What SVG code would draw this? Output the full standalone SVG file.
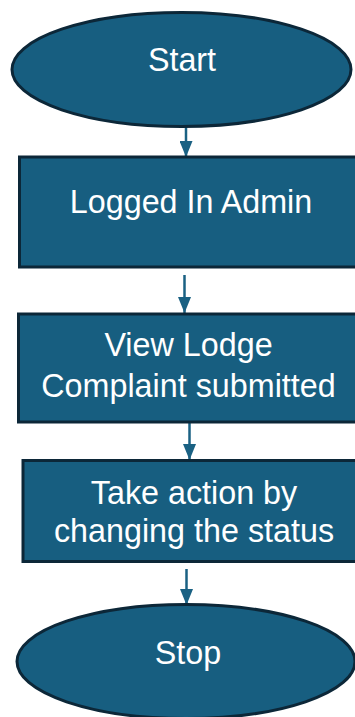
<svg xmlns="http://www.w3.org/2000/svg" width="355" height="717" viewBox="0 0 355 717">
<style>
.n{fill:#175e80;stroke:#0c2738;stroke-width:3}
.t{fill:#ffffff;font-family:"Liberation Sans",Arial,sans-serif;font-size:32.3px;text-anchor:middle}
.c{stroke:#1a6183;stroke-width:2.5;fill:none}
</style>
<defs>
<marker id="ah" markerUnits="userSpaceOnUse" markerWidth="16" markerHeight="13" refX="16" refY="6.5" orient="auto">
<path d="M0,0 L16,6.5 L0,13 Z" fill="#1a6183"/>
</marker>
</defs>
<rect width="355" height="717" fill="#ffffff"/>
<g id="connectors">
<line class="c" x1="186" y1="127" x2="186" y2="157" marker-end="url(#ah)"/>
<line class="c" x1="184.5" y1="275" x2="184.5" y2="313" marker-end="url(#ah)"/>
<line class="c" x1="189.5" y1="423" x2="189.5" y2="460" marker-end="url(#ah)"/>
<line class="c" x1="186.5" y1="569" x2="186.5" y2="605" marker-end="url(#ah)"/>
</g>
<g id="start">
<ellipse class="n" cx="181.5" cy="69.5" rx="169.5" ry="57"/>
<text class="t" x="182" y="70.5">Start</text>
</g>
<g id="logged-in-admin">
<rect class="n" x="19.5" y="157" width="360" height="110"/>
<text class="t" x="191" y="212.5">Logged In Admin</text>
</g>
<g id="view-complaint">
<rect class="n" x="18.5" y="314" width="360" height="108"/>
<text class="t" x="188.5" y="355.5">View Lodge</text>
<text class="t" x="188.5" y="397">Complaint submitted</text>
</g>
<g id="take-action">
<rect class="n" x="23" y="460.5" width="360" height="101"/>
<text class="t" x="194" y="503.5">Take action by</text>
<text class="t" x="194" y="542">changing the status</text>
</g>
<g id="stop">
<ellipse class="n" cx="186" cy="661.5" rx="169" ry="57"/>
<text class="t" x="188" y="663.5">Stop</text>
</g>
</svg>
